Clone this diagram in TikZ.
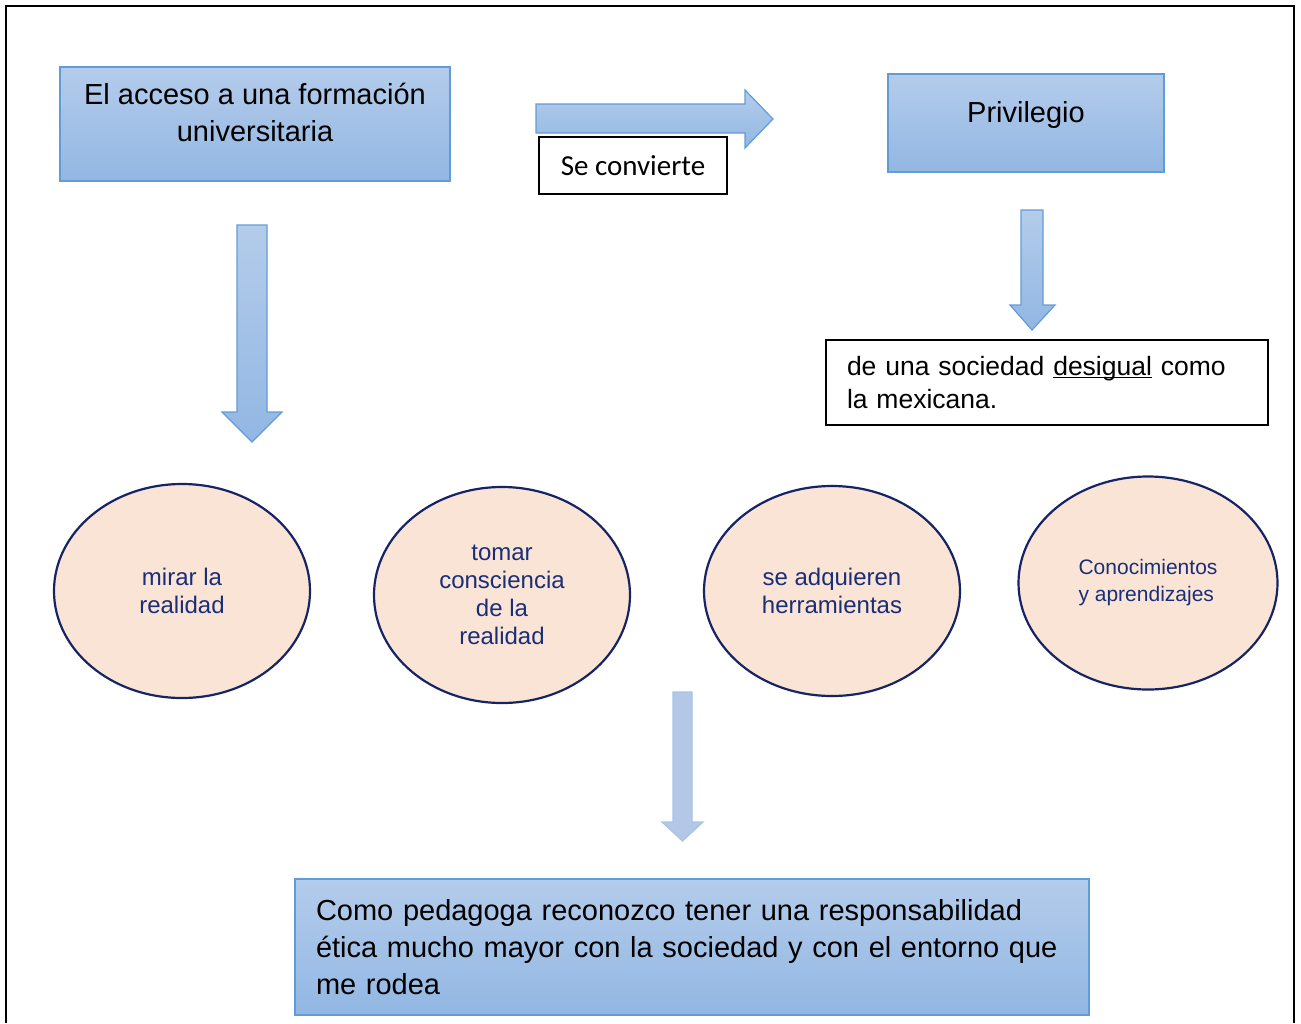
\documentclass[tikz,border=0pt]{standalone}
\usepackage{fontspec}
\setmainfont{Liberation Sans}
\newfontfamily\calibri{Carlito}
\usepackage{tikz}
\usetikzlibrary{shapes.geometric,positioning}

\definecolor{boxTop}{RGB}{180,204,235}
\definecolor{boxBot}{RGB}{146,183,227}
\definecolor{boxLine}{RGB}{98,156,214}
\definecolor{bubbleFill}{RGB}{250,228,214}
\definecolor{bubbleLine}{RGB}{22,36,102}
\definecolor{bubbleText}{RGB}{26,46,120}
\definecolor{paleArrow}{RGB}{180,199,231}
\definecolor{paleLine}{RGB}{166,196,232}

% thick underline close to the baseline
\newcommand{\undl}[1]{\setbox0\hbox{#1}\rlap{\rule[-3pt]{\wd0}{1.6pt}}\box0\relax}

\begin{document}
\begin{tikzpicture}[
    x=1pt, y=-1pt,
    bluebox/.style={rectangle,draw=boxLine,line width=1.3pt,top color=boxTop,bottom color=boxBot,inner sep=0pt},
    boxtext/.style={align=center,font=\fontsize{29}{37}\selectfont},
    plainbox/.style={rectangle,draw=black,line width=1.3pt,fill=white},
    bubble/.style={ellipse,draw=bubbleLine,line width=2.2pt,fill=bubbleFill,text=bubbleText,
        inner sep=0pt,minimum width=256pt,minimum height=214pt,align=center,
        font=\fontsize{24}{28}\selectfont},
    fatarrow/.style={draw=boxLine,line width=1.2pt,top color=boxTop,bottom color=boxBot},
    palearrow/.style={draw=paleLine,line width=1.2pt,fill=paleArrow}
]
\useasboundingbox (0,0) rectangle (1301,1023);

% Frame (open at the bottom)
\draw[line width=2.5pt] (6,1023) |- (1294,6) -- (1294,1023);

% Top row
\node[bluebox,minimum width=390pt,minimum height=114pt] (acceso) at (255,124) {};
\node[boxtext] (accesoTxt) at (255,112.5) {El acceso a una formación\\universitaria};

\node[bluebox,minimum width=276pt,minimum height=98pt] (privilegio) at (1026,123) {};
\node[boxtext] (privilegioTxt) at (1026,115) {Privilegio};

\node[plainbox,minimum width=188pt,minimum height=57pt,font=\calibri\fontsize{29}{34}\selectfont]
    (convierte) at (633,165.5) {Se convierte};

\node[plainbox,minimum width=442pt,minimum height=85pt,inner xsep=21pt,text width=400pt,
    align=left,font=\fontsize{26.5}{33}\selectfont]
    (desigual) at (1047,382.5) {de una sociedad \undl{desigual} como\\la mexicana.};

% Block arrows
\shadedraw[fatarrow] (536,104) -- (745,104) -- (745,90) -- (773,119) -- (745,148) -- (745,133) -- (536,133) -- cycle;
\shadedraw[fatarrow] (237,225) -- (267,225) -- (267,412) -- (282,412) -- (252,442) -- (222,412) -- (237,412) -- cycle;
\shadedraw[fatarrow] (1021,210) -- (1043,210) -- (1043,305) -- (1055,305) -- (1032,330) -- (1010,305) -- (1021,305) -- cycle;
\filldraw[palearrow] (673,692) -- (692,692) -- (692,822) -- (703,822) -- (682.5,841) -- (662,822) -- (673,822) -- cycle;

% Ellipses
\node[bubble] (mirar) at (182,591) {mirar la\\realidad};
\node[bubble,minimum height=216pt] (tomar) at (502,595) {tomar\\consciencia\\de la\\realidad};
\node[bubble,minimum height=210pt] (adquieren) at (832,591) {se adquieren\\herramientas};
\node[bubble,minimum width=259pt,minimum height=213pt,align=left,font=\fontsize{21}{27}\selectfont]
    (conocimientos) at (1148,583) {Conocimientos\\y aprendizajes};

% Conclusion
\node[bluebox,minimum width=794pt,minimum height=136pt,inner xsep=21pt,text width=752pt,
    align=left,font=\fontsize{29}{37}\selectfont]
    (pedagoga) at (692,947) {Como pedagoga reconozco tener una responsabilidad\\ética mucho mayor con la sociedad y con el entorno que\\me rodea};

\end{tikzpicture}
\end{document}
